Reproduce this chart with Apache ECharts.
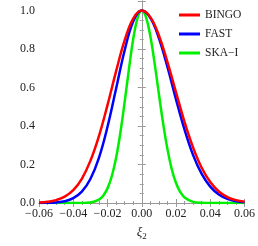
<!DOCTYPE html>
<html><head><meta charset="utf-8">
<script src="https://cdn.jsdelivr.net/npm/echarts@6/dist/echarts.min.js"></script>
<style>html,body{margin:0;padding:0;background:#fff}#c{width:258px;height:246px}</style>
</head><body><div id="c"></div>
<script>
const seriesNames = ["BINGO", "FAST", "SKA\u2212I"];
const xBroad = [-0.06,-0.055,-0.05,-0.045,-0.04,-0.035,-0.03,-0.025,-0.02,-0.015,-0.01,-0.005,0,0.005,0.01,0.015,0.02,0.025,0.03,0.035,0.04,0.045,0.05,0.055,0.06];
const bingo = [0.002,0.006,0.015,0.033,0.067,0.126,0.219,0.348,0.509,0.684,0.845,0.959,1.0,0.966,0.871,0.732,0.575,0.421,0.288,0.183,0.109,0.060,0.031,0.015,0.007];
const fast  = [0.000,0.001,0.003,0.009,0.025,0.059,0.125,0.235,0.396,0.594,0.793,0.944,1.0,0.962,0.857,0.707,0.539,0.381,0.249,0.151,0.085,0.044,0.021,0.009,0.004];
const xNarrow = [-0.06,-0.05,-0.04,-0.035,-0.03,-0.025,-0.0225,-0.02,-0.0175,-0.015,-0.0125,-0.01,-0.0075,-0.005,-0.0025,0,0.0025,0.005,0.0075,0.01,0.0125,0.015,0.0175,0.02,0.0225,0.025,0.03,0.035,0.04,0.05,0.06];
const ska   = [0,0,0,0.0004,0.003,0.018,0.038,0.076,0.139,0.234,0.365,0.524,0.695,0.851,0.960,1.0,0.965,0.868,0.727,0.568,0.413,0.280,0.177,0.104,0.057,0.029,0.006,0.001,0,0,0];
const xTicks = [-0.06,-0.04,-0.02,0.00,0.02,0.04,0.06];
const yTicks = [0.0,0.2,0.4,0.6,0.8,1.0];
const colors = ["#ff0000","#0000ff","#00ee00"];

const pairs = (xs, ys) => xs.map((x, i) => [x, ys[i]]);
const font = "Liberation Serif";
const frame = "#9a9a9a";
const common = {
  axisLine: {show: true, lineStyle: {color: frame, width: 1}},
  axisTick: {show: true, inside: true, length: 4, lineStyle: {color: frame}},
  minorTick: {show: true, splitNumber: 4, length: 2, lineStyle: {color: frame}},
  splitLine: {show: false}
};
const chart = echarts.init(document.getElementById('c'), null, {renderer: 'canvas'});
chart.setOption({
  animation: false,
  backgroundColor: '#fff',
  grid: {left: 39, right: 10, top: 1, bottom: 38.5, containLabel: false},
  legend: {
    orient: 'vertical', left: 179, top: 9, padding: 0, itemWidth: 21, itemHeight: 3, itemGap: 7,
    icon: 'rect',
    textStyle: {fontFamily: font, fontSize: 11.5, lineHeight: 12, color: '#222'},
    data: seriesNames
  },
  xAxis: [
    Object.assign({}, common, {
      type: 'value', min: -0.06, max: 0.06, interval: 0.02, position: 'bottom',
      axisLabel: {fontFamily: font, fontSize: 12, color: '#222', margin: 5,
        formatter: v => { const r = Math.round(v*100)/100; return (r < 0 ? '\u2212' : '') + Math.abs(r).toFixed(2); }},
      name: '{i|\u03be}{s|2}', nameLocation: 'middle', nameGap: 21,
      nameTextStyle: {rich: {i: {fontFamily: font, fontStyle: 'italic', fontSize: 13, color: '#222'},
                             s: {fontFamily: font, fontSize: 9, color: '#222', verticalAlign: 'bottom', padding: [8,0,0,0]}}}
    }),
    Object.assign({}, common, {
      type: 'value', min: -0.06, max: 0.06, interval: 0.02, position: 'top',
      axisLabel: {show: false}
    })
  ],
  yAxis: [
    Object.assign({}, common, {
      type: 'value', min: 0, max: 1.05, interval: 0.2, position: 'left',
      axisLabel: {fontFamily: font, fontSize: 12, color: '#222', margin: 4,
        formatter: v => v > 1.01 ? '' : v.toFixed(1)}
    }),
    Object.assign({}, common, {
      type: 'value', min: 0, max: 1.05, interval: 0.2, position: 'right',
      axisLabel: {show: false}
    })
  ],
  series: [
    {name: seriesNames[0], type: 'line', data: pairs(xBroad, bingo)},
    {name: seriesNames[1], type: 'line', data: pairs(xBroad, fast)},
    {name: seriesNames[2], type: 'line', data: pairs(xNarrow, ska)}
  ].map((s, i) => Object.assign(s, {
    smooth: 0.4, showSymbol: false, symbol: 'none', color: colors[i],
    lineStyle: {color: colors[i], width: 2.5}, clip: true, z: 3 - i
  }))
});
</script></body></html>
